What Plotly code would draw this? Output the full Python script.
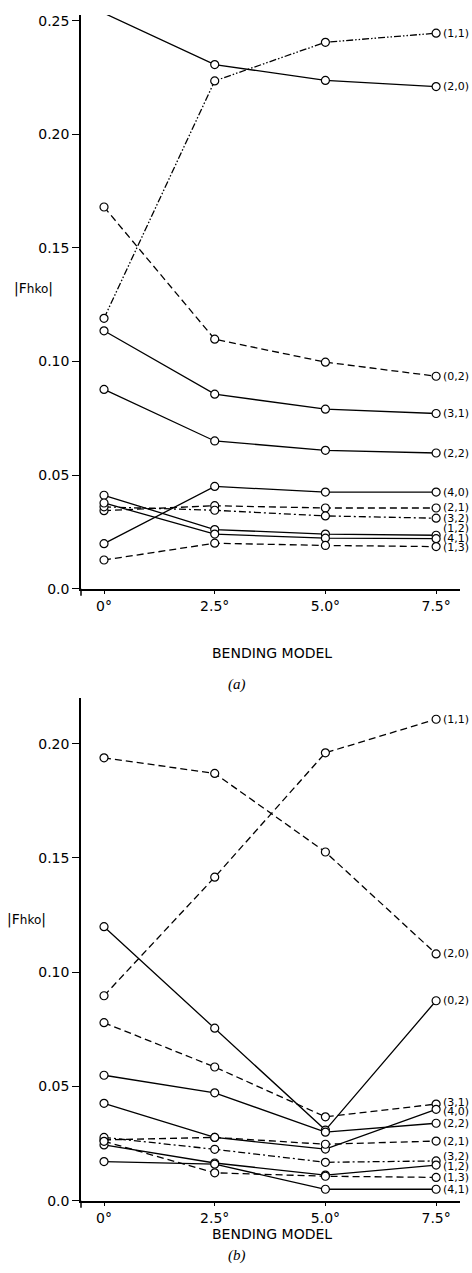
import plotly.graph_objects as go

bending = [0, 2.5, 5.0, 7.5]
bending_labels = ["0°", "2.5°", "5.0°", "7.5°"]

ytick_vals_a = [0.0, 0.05, 0.10, 0.15, 0.20, 0.25]
ytick_text_a = ["0.0", "0.05", "0.10", "0.15", "0.20", "0.25"]
ytick_vals_b = [0.0, 0.05, 0.10, 0.15, 0.20]
ytick_text_b = ["0.0", "0.05", "0.10", "0.15", "0.20"]

# Panel (a)
a_11 = [0.1190, 0.2235, 0.2405, 0.2445]
a_20 = [0.2533, 0.2307, 0.2237, 0.2210]
a_02 = [0.1680, 0.1098, 0.0997, 0.0935]
a_31 = [0.1135, 0.0856, 0.0790, 0.0771]
a_22 = [0.0877, 0.0650, 0.0609, 0.0597]
a_40 = [0.0198, 0.0450, 0.0425, 0.0425]
a_21 = [0.0343, 0.0365, 0.0355, 0.0355]
a_32 = [0.0360, 0.0345, 0.0320, 0.0310]
a_12 = [0.0411, 0.0260, 0.0240, 0.0235]
a_41 = [0.0377, 0.0240, 0.0222, 0.0220]
a_13 = [0.0126, 0.0200, 0.0190, 0.0185]

# Panel (b)
b_11 = [0.0897, 0.1416, 0.1960, 0.2107]
b_20 = [0.1938, 0.1870, 0.1526, 0.1080]
b_02 = [0.1199, 0.0755, 0.0309, 0.0875]
b_31 = [0.0779, 0.0585, 0.0367, 0.0423]
b_40 = [0.0426, 0.0277, 0.0226, 0.0400]
b_22 = [0.0549, 0.0472, 0.0300, 0.0339]
b_21 = [0.0266, 0.0277, 0.0247, 0.0261]
b_32 = [0.0277, 0.0225, 0.0168, 0.0174]
b_12 = [0.0244, 0.0165, 0.0112, 0.0156]
b_13 = [0.0260, 0.0122, 0.0107, 0.0102]
b_41 = [0.0171, 0.0160, 0.0050, 0.0050]

SOLID = "solid"
DASH = "7px,4px"
DASHDOT = "7px,3px,2px,3px"
DASHDOTDOT = "7px,2px,1.5px,2px,1.5px,2px"

a_series = [
    ("(1,1)", a_11, DASHDOTDOT, 0),
    ("(2,0)", a_20, SOLID, 0),
    ("(0,2)", a_02, DASH, 0),
    ("(3,1)", a_31, SOLID, 0),
    ("(2,2)", a_22, SOLID, 0),
    ("(4,0)", a_40, SOLID, 0),
    ("(2,1)", a_21, DASH, 0),
    ("(3,2)", a_32, DASHDOT, 0),
    ("(1,2)", a_12, SOLID, 7),
    ("(4,1)", a_41, SOLID, 0),
    ("(1,3)", a_13, DASH, -1),
]
b_series = [
    ("(1,1)", b_11, DASH, 0),
    ("(2,0)", b_20, DASH, 0),
    ("(0,2)", b_02, SOLID, 0),
    ("(3,1)", b_31, DASH, 2),
    ("(4,0)", b_40, SOLID, -2),
    ("(2,2)", b_22, SOLID, 0),
    ("(2,1)", b_21, DASH, 0),
    ("(3,2)", b_32, DASHDOT, 4),
    ("(1,2)", b_12, SOLID, -1),
    ("(1,3)", b_13, DASH, 0),
    ("(4,1)", b_41, SOLID, 0),
]

FAMILY = "DejaVu Sans, Verdana, sans-serif"

fig = go.Figure()
annotations = []
LBL_FONT = dict(family=FAMILY, size=11, color="black")

for (xa, ya, series) in [("x", "y", a_series), ("x2", "y2", b_series)]:
    for name, vals, dash, shift in series:
        fig.add_trace(go.Scatter(
            x=bending, y=vals, xaxis=xa, yaxis=ya, mode="lines+markers",
            line=dict(color="black", width=1.3, dash=dash),
            marker=dict(symbol="circle", size=8, color="white",
                        line=dict(color="black", width=1.2)),
            cliponaxis=False, showlegend=False, name=name,
        ))
        annotations.append(dict(
            x=bending[-1], y=vals[-1], xref=xa, yref=ya, text=name,
            showarrow=False, xanchor="left", yanchor="middle",
            xshift=5, yshift=shift, font=LBL_FONT,
        ))

TICK_FONT = dict(family=FAMILY, size=14, color="black")

xcommon = dict(range=[-0.52, 8.04], tickvals=bending, ticktext=bending_labels,
               showline=True, linecolor="black", linewidth=1.5, ticks="outside",
               ticklen=4, tickcolor="black", showgrid=False, zeroline=False,
               tickfont=TICK_FONT, automargin=False, domain=[0.1716, 0.9746])

ycommon = dict(showline=True, linecolor="black", linewidth=1.5, ticks="outside",
               ticklen=7, tickcolor="black", showgrid=False, zeroline=False,
               tickfont=TICK_FONT, automargin=False)

fig.update_layout(
    width=472, height=1273,
    margin=dict(l=0, r=0, t=0, b=0),
    paper_bgcolor="white", plot_bgcolor="white",
    xaxis=dict(xcommon, anchor="y"),
    yaxis=dict(ycommon, range=[0, 0.2525], domain=[0.5376, 0.9882], anchor="x",
               tickvals=ytick_vals_a, ticktext=ytick_text_a),
    xaxis2=dict(xcommon, anchor="y2"),
    yaxis2=dict(ycommon, range=[0, 0.22], domain=[0.0568, 0.4517], anchor="x2",
                tickvals=ytick_vals_b, ticktext=ytick_text_b),
)

# small extension of the y axis line below the origin
shapes = []
for ybot in [588.7, 1200.7]:
    shapes.append(dict(type="line", xref="paper", yref="paper",
                       x0=81 / 472, x1=81 / 472,
                       y0=1 - ybot / 1273, y1=1 - (ybot + 7) / 1273,
                       line=dict(color="black", width=1.5)))

TXT_FONT = dict(family=FAMILY, size=14, color="black")
CAP_FONT = dict(family="Liberation Serif, Times New Roman, serif", size=15, color="black")
YLBL = "|F<span style='font-size:12px'>hko</span>|"

for cap, ytitle, ylbl, ycap, xlbl in [("a", 653, 288, 684, 33), ("b", 1234, 919, 1255, 26)]:
    annotations.append(dict(x=272 / 472, y=1 - ytitle / 1273, xref="paper", yref="paper",
                            text="BENDING MODEL", showarrow=False, font=TXT_FONT,
                            xanchor="center", yanchor="middle"))
    annotations.append(dict(x=237 / 472, y=1 - ycap / 1273, xref="paper", yref="paper",
                            text="<i>(" + cap + ")</i>",
                            showarrow=False, font=CAP_FONT,
                            xanchor="center", yanchor="middle"))
    annotations.append(dict(x=xlbl / 472, y=1 - ylbl / 1273, xref="paper", yref="paper",
                            text=YLBL, showarrow=False,
                            font=dict(family=FAMILY, size=14, color="black"),
                            xanchor="center", yanchor="middle"))

fig.update_layout(annotations=annotations, shapes=shapes)
fig.write_html("out.html")
